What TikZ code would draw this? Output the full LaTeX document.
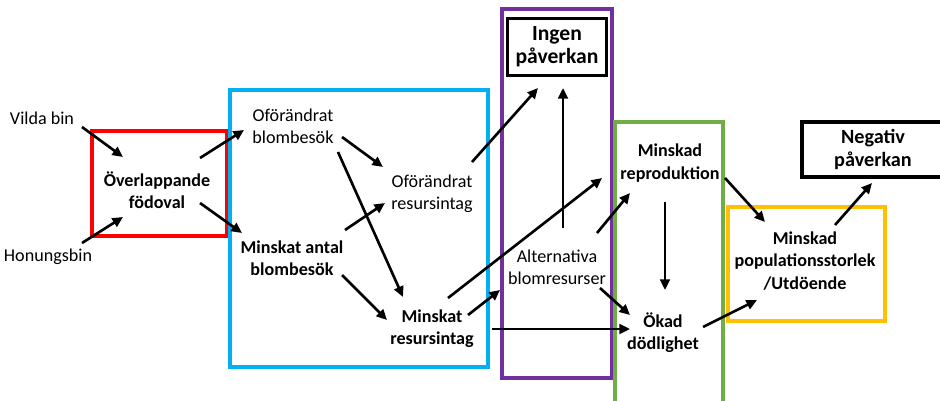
\documentclass[tikz,border=0pt]{standalone}
\usepackage{fontspec}
\setmainfont{Carlito}
\usepackage{xcolor}
\usepackage{tikz}
\usetikzlibrary{arrows.meta,positioning}
\definecolor{frred}{HTML}{FF0000}
\definecolor{frblue}{HTML}{00B0F0}
\definecolor{frpurple}{HTML}{7030A0}
\definecolor{frgreen}{HTML}{70AD47}
\definecolor{fryellow}{HTML}{FFC000}

\begin{document}
\begin{tikzpicture}[x=0.02cm,y=-0.02cm,
  txt/.style={align=center,font=\fontsize{10.3}{12.6}\selectfont,inner sep=1pt},
  bold/.style={txt,font=\fontsize{10.3}{12.6}\selectfont\bfseries},
  frame/.style={line width=1.8pt},
  result/.style={bold,draw=black,line width=1.8pt,minimum width=99*0.02cm,minimum height=57*0.02cm,
    font=\fontsize{12.3}{13.1}\selectfont\bfseries},
  arr/.style={-{Triangle[length=6pt,width=5.5pt]},line width=1.5pt}]
  \useasboundingbox (0,0) rectangle (940,400);
  \clip (0,0) rectangle (940,400);
  % frames
  \draw[frame,frred] (92,131) rectangle (227,236);
  \draw[frame,frblue] (230,90) rectangle (488,367);
  \draw[frame,frpurple] (502,9) rectangle (612,378);
  \draw[frame,frgreen] (615,122) rectangle (723,410);
  \draw[frame,fryellow] (728,207) rectangle (885,321);
  \draw[line width=1.8pt] (802,122) rectangle (950,177);
  % nodes
  \node[txt] (vb) at (42,118) {Vilda bin};
  \node[txt] (hb) at (48,257) {Honungsbin};
  \node[bold] (ov) at (157,190) {Överlappande\\födoval};
  \node[txt] (obb) at (293,126) {Oförändrat\\blombesök};
  \node[bold] (mab) at (292,258) {Minskat antal\\blombesök};
  \node[txt] (ori) at (432,194) {Oförändrat\\resursintag};
  \node[bold] (mri) at (432,329) {Minskat\\resursintag};
  \node[result] (ingen) at (557,47) {Ingen\\påverkan};
  \node[txt] (alt) at (557,267) {Alternativa\\blomresurser};
  \node[bold] (mrep) at (670,163) {Minskad\\reproduktion};
  \node[bold] (okd) at (663,333) {Ökad\\dödlighet};
  \node[bold] (mpop) at (805,261) {Minskad\\populationsstorlek\\/Utdöende};
  \node[bold,font=\fontsize{11.5}{13.1}\selectfont\bfseries] (neg) at (873,149) {Negativ\\påverkan};
  % arrows
  \draw[arr] ([shift={(40,9)}]vb.center) -- ([shift={(-34,-33)}]ov.center);
  \draw[arr] ([shift={(34,-14)}]hb.center) -- ([shift={(-34,27)}]ov.center);
  \draw[arr] ([shift={(43,-32)}]ov.center) -- ([shift={(-49,4)}]obb.center);
  \draw[arr] ([shift={(43,13)}]ov.center) -- ([shift={(-50,-25)}]mab.center);
  \draw[arr] ([shift={(49,11)}]obb.center) -- ([shift={(-49,-27)}]ori.center);
  \draw[arr] ([shift={(45,26)}]obb.center) -- ([shift={(-29,-32)}]mri.center);
  \draw[arr] ([shift={(53,-28)}]mab.center) -- ([shift={(-47,9)}]ori.center);
  \draw[arr] ([shift={(50,17)}]mab.center) -- ([shift={(-45,-9)}]mri.center);
  \draw[arr] ([shift={(40,-32)}]ori.center) -- ([shift={(-19,41)}]ingen.center);
  \draw[arr] ([shift={(16,-31)}]mri.center) -- ([shift={(-68,15)}]mrep.center);
  \draw[arr] ([shift={(36,-14)}]mri.center) -- ([shift={(-57,23)}]alt.center);
  \draw[arr] ([shift={(60,0)}]mri.center) -- ([shift={(-33,-4)}]okd.center);
  \draw[arr] ([shift={(6,-39)}]alt.center) -- ([shift={(6,41)}]ingen.center);
  \draw[arr] ([shift={(40,-34)}]alt.center) -- ([shift={(-40,30)}]mrep.center);
  \draw[arr] ([shift={(43,21)}]alt.center) -- ([shift={(-33,-18)}]okd.center);
  \draw[arr] ([shift={(-5,39)}]mrep.center) -- ([shift={(2,-43)}]okd.center);
  \draw[arr] ([shift={(55,15)}]mrep.center) -- ([shift={(-40,-39)}]mpop.center);
  \draw[arr] ([shift={(40,-6)}]okd.center) -- ([shift={(-48,39)}]mpop.center);
  \draw[arr] ([shift={(30,-36)}]mpop.center) -- ([shift={(-1,34)}]neg.center);
\end{tikzpicture}
\end{document}
